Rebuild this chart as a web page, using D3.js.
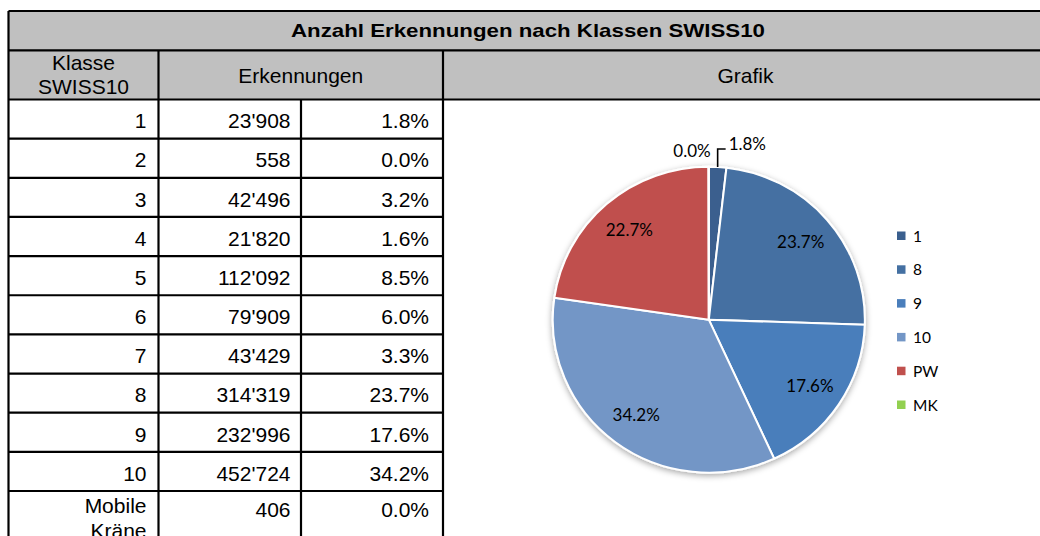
<!DOCTYPE html>
<html><head><meta charset="utf-8">
<script src="https://cdn.jsdelivr.net/npm/d3@7"></script>
<style>html,body{margin:0;padding:0;background:#fff;} svg{display:block}</style>
</head><body><svg id="c" width="1040" height="536"></svg>
<script>
// ---------- data ----------
const title = "Anzahl Erkennungen nach Klassen SWISS10";
const headKlasse = ["Klasse", "SWISS10"];
const headErk = "Erkennungen";
const headGrafik = "Grafik";
const classes = ["1","2","3","4","5","6","7","8","9","10","Mobile Kräne"];
const counts = [23908,558,42496,21820,112092,79909,43429,314319,232996,452724,406];
const shares = ["1.8%","0.0%","3.2%","1.6%","8.5%","6.0%","3.3%","23.7%","17.6%","34.2%","0.0%"];
const pieCategories = ["1","8","9","10","PW","MK"];
const pieValues = [23908,314319,232996,452724,300304,406];
const pieColors = ["#3A5F8E","#4470A2","#4A7EBB","#7396C6","#C0504D","#92D050"];

// ---------- setup ----------
const svg = d3.select("#c");
svg.append("rect").attr("width",1040).attr("height",536).attr("fill","#fff");
const fmtCount = d3.formatLocale({decimal:".", thousands:"'", grouping:[3], currency:["",""]}).format(",d");
const fmtPct = d3.format(".1%");

const tableFont = "'Liberation Sans', Arial, sans-serif";
const chartFont = "Lato, 'Open Sans', sans-serif";

// table geometry
const colX = [8.5, 158.5, 301, 443, 1048];
const yTitleTop = 11, yTitleBot = 50.3, yHeadBot = 99.5;
const rowY = d3.scaleLinear().domain([0, 10]).range([yHeadBot, 491]);
const tableBottom = 560;

// header fills
svg.append("rect").attr("x",colX[0]).attr("y",yTitleTop).attr("width",colX[4]-colX[0]).attr("height",yHeadBot-yTitleTop).attr("fill","#C0C0C0");

const lines = svg.append("g").attr("stroke","#000").attr("stroke-width",2.2).attr("fill","none");
// horizontal lines
lines.append("line").attr("x1",colX[0]).attr("x2",colX[4]).attr("y1",yTitleTop).attr("y2",yTitleTop);
lines.append("line").attr("x1",colX[0]).attr("x2",colX[4]).attr("y1",yTitleBot).attr("y2",yTitleBot);
lines.append("line").attr("x1",colX[0]).attr("x2",colX[4]).attr("y1",yHeadBot).attr("y2",yHeadBot);
d3.range(1, 11).forEach(i => {
  lines.append("line").attr("x1",colX[0]).attr("x2",colX[3]).attr("y1",rowY(i)).attr("y2",rowY(i));
});
// vertical lines
lines.append("line").attr("x1",colX[0]).attr("x2",colX[0]).attr("y1",yTitleTop).attr("y2",tableBottom);
lines.append("line").attr("x1",colX[1]).attr("x2",colX[1]).attr("y1",yTitleBot).attr("y2",tableBottom);
lines.append("line").attr("x1",colX[2]).attr("x2",colX[2]).attr("y1",yHeadBot).attr("y2",tableBottom);
lines.append("line").attr("x1",colX[3]).attr("x2",colX[3]).attr("y1",yTitleBot).attr("y2",tableBottom);

// title
svg.append("text").attr("x",528).attr("y",37.3).attr("text-anchor","middle")
  .attr("font-family",tableFont).attr("font-weight","bold").attr("font-size",19)
  .attr("textLength",474).attr("lengthAdjust","spacingAndGlyphs")
  .attr("fill","#000").text(title);

// header row
const ht = svg.append("g").attr("font-family",tableFont).attr("font-size",21).attr("fill","#000").attr("text-anchor","middle");
headKlasse.forEach((t,i) => ht.append("text").attr("x",(colX[0]+colX[1])/2).attr("y",70 + i*24.3).text(t));
ht.append("text").attr("x",(colX[1]+colX[3])/2).attr("y",83.3).text(headErk);
ht.append("text").attr("x",(colX[3]+colX[4])/2).attr("y",83.3).text(headGrafik);

// body rows
const bt = svg.append("g").attr("font-family",tableFont).attr("font-size",21).attr("fill","#000").attr("text-anchor","end");
classes.forEach((c,i) => {
  const top = rowY(i);
  const last = i === classes.length - 1;
  const base = last ? top + 25.7 : top + 28.8;
  if (c.includes(" ")) {
    c.split(" ").forEach((w,j) => bt.append("text").attr("x",colX[1]-12).attr("y",top + 22.3 + j*24.3).text(w));
  } else {
    bt.append("text").attr("x",colX[1]-12).attr("y",base).text(c);
  }
  bt.append("text").attr("x",colX[2]-10.5).attr("y",base).text(fmtCount(counts[i]));
  bt.append("text").attr("x",colX[3]-14).attr("y",base).text(shares[i]);
});

// ---------- pie ----------
const cx = 708.8, cy = 319.7, R = 153, sx = 1.02;
const defs = svg.append("defs");
const f = defs.append("filter").attr("id","sh").attr("x","-20%").attr("y","-20%").attr("width","140%").attr("height","140%");
f.append("feDropShadow").attr("dx",0).attr("dy",2).attr("stdDeviation",3).attr("flood-color","#000").attr("flood-opacity",0.35);

const total = d3.sum(pieValues);
const pie = d3.pie().sort(null).value(d => d)(pieValues);
const arc = d3.arc().innerRadius(0).outerRadius(R);
const labelArc = d3.arc().innerRadius(119).outerRadius(119);
const edgeArc = d3.arc().innerRadius(R).outerRadius(R);

const pg = svg.append("g").attr("transform",`translate(${cx},${cy}) scale(${sx},1)`).attr("filter","url(#sh)");
pg.selectAll("path").data(pie).join("path")
  .attr("d",arc).attr("fill",(d,i) => pieColors[i])
  .attr("stroke","#fff").attr("stroke-width",2).attr("stroke-linejoin","round");

const lg = svg.append("g").attr("font-family",chartFont).attr("font-size",17).attr("fill","#000");
// inside labels
pie.forEach((d,i) => {
  const share = d.value / total;
  if (share >= 0.05) {
    const [x,y] = labelArc.centroid(d);
    lg.append("text").attr("x",cx + x*sx).attr("y",cy + y).attr("text-anchor","middle")
      .attr("dy","0.36em").text(fmtPct(share));
  }
});
// outside labels for small slices
const outside = {
  "1":  {leader:true,  dx: 11, dy: -17, anchor:"start"},
  "MK": {leader:false, dx: 2,  dy: -10, anchor:"end"}
};
pie.forEach((d,i) => {
  const cfg = outside[pieCategories[i]];
  if (!cfg) return;
  const [ex,ey] = edgeArc.centroid(d);
  const px = cx + ex*sx, py = cy + ey;
  if (cfg.leader) {
    svg.append("path").attr("d",`M${px},${py} V${py-18} H${px+8}`)
      .attr("fill","none").attr("stroke","#000").attr("stroke-width",1.6);
  }
  lg.append("text").attr("x",px + cfg.dx).attr("y",py + cfg.dy).attr("text-anchor",cfg.anchor)
    .text(fmtPct(d.value / total));
});

// legend
const legY = d3.scaleLinear().domain([0, pieCategories.length - 1]).range([236, 405]);
const leg = svg.append("g").attr("font-family",chartFont).attr("font-size",15.5).attr("fill","#000");
pieCategories.forEach((c,i) => {
  leg.append("rect").attr("x",897).attr("y",legY(i)-4.5).attr("width",8.5).attr("height",8.5).attr("fill",pieColors[i]);
  leg.append("text").attr("x",913).attr("y",legY(i)+5.5).text(c);
});
</script></body></html>
